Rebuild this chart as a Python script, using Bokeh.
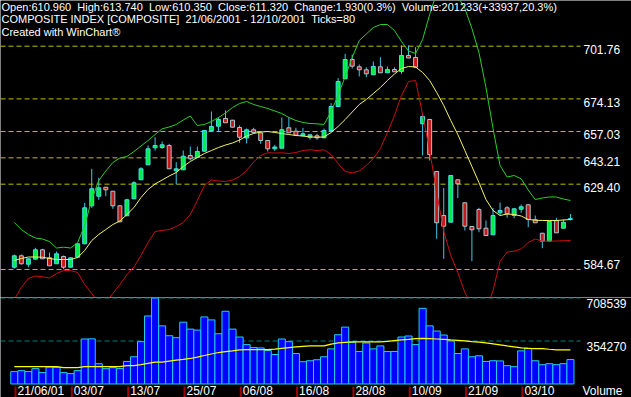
from bokeh.plotting import figure
from bokeh.layouts import column
from bokeh.models import Range1d, ColumnDataSource, Label
from bokeh.core.properties import value
from bokeh.embed import file_html
from bokeh.resources import INLINE

# ---------------- data ----------------
opens = [585.86, 591.84, 587.44, 590.06, 594.99, 590.79, 587.65, 591.47, 585.86, 591.11,
         598.13, 618.06, 623.09, 627.81, 625.72, 618.06, 612.82, 621.73, 631.70, 639.56,
         648.48, 648.63, 649.68, 636.41, 636.94, 644.44, 643.39, 646.69, 657.55, 659.80,
         663.84, 662.95, 659.12, 653.61, 657.92, 656.34, 652.30, 647.95, 648.27, 658.96,
         657.18, 654.77, 654.03, 654.77, 653.72, 657.55, 670.13, 684.66, 694.78, 690.95,
         689.38, 686.76, 690.95, 687.81, 689.54, 688.49, 696.88, 695.83, 661.06, 663.32,
         636.05, 612.97, 609.46, 631.70, 619.63, 607.21, 616.12, 606.31, 602.85, 614.39,
         617.01, 612.97, 616.28, 618.59, 610.72, 603.69, 599.50, 610.35, 606.31, 610.96]
highs = [592.52, 592.52, 590.42, 596.04, 595.51, 593.57, 594.10, 592.00, 590.95, 598.29,
         619.63, 637.46, 632.74, 627.92, 625.82, 618.22, 621.73, 630.96, 638.30, 649.68,
         654.03, 651.78, 650.57, 640.92, 647.06, 649.16, 649.16, 657.81, 667.51, 664.52,
         668.04, 663.10, 660.17, 658.60, 658.96, 656.50, 652.40, 650.05, 664.37, 664.52,
         658.96, 658.96, 655.45, 655.82, 658.60, 671.86, 684.97, 697.77, 697.40, 692.16,
         690.74, 693.73, 695.99, 691.11, 690.74, 702.12, 702.12, 701.23, 666.62, 663.68,
         636.20, 627.50, 634.05, 631.85, 619.80, 607.36, 617.01, 610.35, 616.80, 619.79,
         617.85, 616.74, 618.74, 618.74, 612.97, 603.80, 609.93, 611.77, 610.88, 613.74]
lows = [585.18, 587.28, 585.86, 589.90, 590.16, 586.49, 587.54, 584.81, 585.71, 590.95,
        598.03, 617.01, 621.21, 623.09, 616.49, 609.57, 612.72, 621.63, 631.60, 639.45,
        647.06, 647.95, 637.36, 629.23, 636.83, 641.82, 643.30, 646.54, 657.18, 656.66,
        661.48, 659.17, 651.10, 650.73, 655.97, 650.57, 646.54, 646.80, 648.10, 656.24,
        654.98, 654.66, 652.83, 652.67, 653.60, 657.40, 669.77, 684.55, 690.06, 685.87,
        685.50, 686.66, 687.70, 687.70, 688.23, 687.28, 695.46, 690.59, 644.44, 641.82,
        600.76, 590.27, 609.35, 622.05, 605.11, 589.01, 604.22, 602.40, 602.75, 612.97,
        611.77, 611.56, 614.39, 606.84, 609.05, 595.83, 599.40, 603.80, 606.20, 610.35]
closes = [591.84, 587.65, 590.27, 594.99, 590.27, 586.60, 592.89, 585.86, 590.79, 598.13,
          617.01, 626.98, 627.50, 626.45, 618.06, 609.67, 621.21, 630.12, 637.46, 647.95,
          649.68, 650.05, 637.46, 637.46, 644.07, 642.71, 646.54, 657.55, 659.65, 663.32,
          661.59, 659.28, 654.03, 657.92, 656.50, 652.30, 647.95, 648.90, 657.97, 656.34,
          655.08, 655.82, 655.29, 653.72, 657.55, 670.13, 683.24, 694.78, 691.27, 689.38,
          687.28, 691.11, 687.81, 689.54, 688.33, 696.88, 695.57, 690.74, 664.89, 644.96,
          609.15, 607.36, 633.95, 629.60, 607.36, 605.48, 606.00, 602.49, 612.97, 615.60,
          613.87, 616.49, 617.54, 610.88, 609.15, 599.50, 609.83, 603.90, 609.39, 611.32]
volumes = [101900, 110000, 101900, 126300, 93700, 139400, 136900, 93700, 85600, 110000,
           370800, 372000, 167100, 126300, 134500, 127000, 185800, 224100, 348800, 560700,
           708539, 479200, 397700, 381400, 509400, 452300, 444200, 552600, 528100, 414000,
           599000, 452300, 387100, 324400, 299900, 297000, 275500, 242900, 370800, 348800,
           251000, 183400, 191500, 199700, 224100, 289300, 405900, 468600, 343100, 267300,
           338200, 289300, 313800, 267300, 268000, 387100, 395300, 324400, 623500, 479200,
           436000, 403400, 354500, 251000, 289300, 224100, 232300, 185800, 191500, 190000,
           150800, 142600, 273000, 294200, 191500, 158900, 167100, 158900, 167296, 201233]
bb_upper = [609.30, 605.63, 603.01, 601.17, 600.65, 599.34, 595.93, 596.35, 595.93, 598.82,
            607.73, 621.36, 631.33, 636.31, 640.77, 643.13, 643.91, 646.54, 649.42, 652.30,
            655.45, 658.44, 659.38, 660.69, 663.05, 665.15, 660.17, 660.69, 662.27, 664.37,
            666.73, 669.61, 671.71, 672.76, 671.18, 670.13, 669.08, 667.77, 666.46, 664.37,
            662.79, 661.74, 661.22, 661.06, 660.69, 667.51, 675.90, 685.87, 695.83, 704.74,
            708.15, 711.56, 713.13, 713.13, 709.99, 704.22, 699.24, 697.93, 705.27, 718.38,
            729.90, 736.70, 733.60, 727.80, 721.52, 711.04, 698.45, 680.10, 658.60, 639.19,
            633.16, 633.95, 632.22, 626.35, 621.36, 622.15, 622.68, 622.68, 621.63, 620.84]
bb_mid = [589.38, 590.42, 591.21, 591.21, 591.11, 590.42, 589.90, 589.90, 589.90, 590.95,
          594.62, 599.86, 603.01, 605.63, 608.25, 610.09, 613.50, 617.17, 622.41, 626.61,
          629.49, 631.59, 633.69, 635.52, 638.67, 641.29, 643.39, 645.49, 647.06, 648.63,
          649.94, 650.99, 652.57, 654.66, 655.97, 656.76, 657.02, 656.50, 655.97, 655.45,
          654.93, 654.66, 654.14, 654.03, 654.14, 656.50, 659.65, 663.32, 667.25, 671.18,
          673.80, 676.95, 680.10, 683.77, 687.18, 690.06, 691.11, 690.85, 687.96, 683.77,
          677.48, 670.66, 662.79, 655.45, 647.06, 638.67, 630.28, 621.36, 615.60, 612.97,
          613.76, 613.50, 612.71, 610.88, 610.51, 610.35, 610.35, 610.35, 610.61, 610.88]
bb_lower = [568.92, 575.22, 579.94, 581.25, 580.83, 580.20, 582.56, 584.13, 584.13, 583.08,
            576.79, 572.07, 567.35, 567.35, 572.07, 576.79, 582.03, 585.97, 592.00, 598.82,
            604.58, 605.11, 605.63, 607.21, 609.30, 613.50, 620.84, 628.71, 631.59, 631.07,
            630.80, 631.59, 633.43, 636.57, 641.03, 644.44, 645.85, 645.75, 645.85, 645.49,
            646.01, 647.06, 647.43, 647.06, 647.43, 644.96, 640.24, 636.05, 635.37, 636.31,
            639.19, 642.86, 648.11, 656.50, 665.41, 675.90, 683.24, 683.77, 665.94, 647.06,
            625.04, 604.58, 592.00, 583.08, 572.60, 565.25, 560.53, 563.16, 573.64, 588.85,
            593.83, 594.25, 595.41, 598.82, 600.65, 599.50, 599.50, 599.60, 599.76, 599.86]
vol_ma = [142600] * 7 + [134500] * 3 + [142600] * 6 + [
    150800, 150800, 158900, 169500, 180100, 180100, 188300, 196400, 202100, 210300,
    220900, 234700, 246900, 259200, 267300, 273000, 281200, 283600, 283600, 283600,
    283600, 287700, 294200, 299900, 305600, 310500, 313800, 313800, 313800, 328400,
    338200, 343100, 346400, 346400, 346400, 346400, 346400, 351300, 357000, 362700,
    367600, 373300, 375700, 373300, 370800, 367600, 362700, 359400, 354500, 348800,
    344700, 338200, 330900, 322700, 313800, 305600, 297500, 294200, 291800, 291800,
    286100, 281200, 281200, 281200]

price_ticks = [701.76, 674.13, 657.03, 643.21, 629.40, 584.67]
price_tick_labels = ["701.76", "674.13", "657.03", "643.21", "629.40", "584.67"]
vol_ticks = [708539, 354270]
vol_tick_labels = ["708539", "354270"]
date_idx = [0, 8, 16, 24, 32, 40, 48, 56, 64, 72]
date_labels = ["21/06/01", "03/07", "13/07", "25/07", "06/08", "16/08",
               "28/08", "10/09", "21/09", "03/10"]
header_lines = [
    "Open:610.960\u00a0 High:613.740\u00a0 Low:610.350\u00a0 Close:611.320\u00a0 "
    "Change:1.930(0.3%)\u00a0 Volume:201233(+33937,20.3%)",
    "COMPOSITE INDEX [COMPOSITE]\u00a0 21/06/2001 - 12/10/2001\u00a0 Ticks=80",
    "Created with WinChart\u00ae",
]

# ---------------- layout constants ----------------
W = 631
H_PRICE = 297
H_VOL = 100
BAR_PX = 7.04          # pixels per bar
X0_PX = 13.8           # pixel of first bar centre
X_START = -X0_PX / BAR_PX
X_END = X_START + W / BAR_PX
PRICE_TOP = 725.72
PRICE_PER_PX = 0.5244
PRICE_BOTTOM = PRICE_TOP - PRICE_PER_PX * H_PRICE
VOL_PER_PX = 8240
VOL_TOP = 712659
VOL_BOTTOM = VOL_TOP - VOL_PER_PX * H_VOL


def px_x(px):
    return X_START + px / BAR_PX


FONT = value("Liberation Sans")
n = len(closes)
idx = list(range(n))
up = [c >= o for o, c in zip(opens, closes)]

src = ColumnDataSource(dict(
    x=idx, o=opens, h=highs, l=lows, c=closes,
    top=[max(o, c) for o, c in zip(opens, closes)],
    bot=[min(o, c) for o, c in zip(opens, closes)],
    fill=["#00f040" if u else "#c81818" for u in up],
    edge=["#40e0e8" if u else "#a8c8d0" for u in up],
))


def base_fig(h, yr):
    f = figure(width=W, height=h, output_backend="svg", toolbar_location=None,
               x_range=Range1d(X_START, X_END), y_range=yr, min_border=0,
               background_fill_color="black", border_fill_color="black")
    f.axis.visible = False
    f.grid.visible = False
    f.outline_line_color = None
    return f


# ---------------- price pane ----------------
p = base_fig(H_PRICE, Range1d(PRICE_BOTTOM, PRICE_TOP))
p.segment(x0=[X_START] * len(price_ticks), x1=[px_x(580)] * len(price_ticks),
          y0=price_ticks, y1=price_ticks, line_color="#c0c000", line_width=1,
          line_dash="5 3")
p.segment(x0="x", x1="x", y0="l", y1="h", source=src, line_color="#40c8e8", line_width=1)
p.vbar(x="x", width=0.56, top="top", bottom="bot", source=src,
       fill_color="fill", line_color="edge", line_width=1)
p.line(idx, bb_upper, line_color="#28d028", line_width=1)
p.line(idx, bb_lower, line_color="#c81010", line_width=1)
p.line(idx, bb_mid, line_color="#f4f460", line_width=1)

lab_top = price_tick_labels[:-1]
p.text(x=[px_x(583)] * len(lab_top), y=price_ticks[:-1], text=lab_top,
       text_color="white", text_font=FONT, text_font_size="12px",
       text_baseline="top", y_offset=-1.3)
p.text(x=[px_x(583)], y=price_ticks[-1:], text=price_tick_labels[-1:],
       text_color="white", text_font=FONT, text_font_size="12px",
       text_baseline="bottom")

for k, line in enumerate(header_lines):
    p.add_layout(Label(x=1, y=H_PRICE - 0.5 - 12.3 * k, x_units="screen", y_units="screen",
                       text=line, text_color="white", text_font="Liberation Sans",
                       text_font_size="11px", text_baseline="top", text_align="left"))

# ---------------- volume pane ----------------
v = base_fig(H_VOL, Range1d(VOL_BOTTOM, VOL_TOP))
v.segment(x0=[X_START] * 2, x1=[px_x(580)] * 2, y0=vol_ticks, y1=vol_ticks,
          line_color="#008080", line_width=1, line_dash="5 3")
v.vbar(x=idx, width=1.0, top=volumes, bottom=0, fill_color="#0000ff",
       line_color="#20d0f0", line_width=1)
v.line(idx, vol_ma, line_color="#ffff00", line_width=1.2)
v.text(x=[px_x(586)] * 2, y=vol_ticks, text=vol_tick_labels, text_color="white",
       text_font=FONT, text_font_size="12px", text_baseline="top", y_offset=1)

# date axis below the bars
tick_x = [i + 1.2 / BAR_PX for i in date_idx]
v.segment(x0=tick_x, x1=tick_x, y0=[-2.5 * VOL_PER_PX] * len(date_idx),
          y1=[-13 * VOL_PER_PX] * len(date_idx), line_color="#a00000", line_width=2)
v.text(x=date_idx, y=[0] * len(date_idx), text=date_labels, text_color="white",
       text_font=FONT, text_font_size="12px", text_baseline="top",
       x_offset=3.2, y_offset=0.5)
v.text(x=[px_x(582)], y=[0], text=["Volume"], text_color="white", text_font=FONT,
       text_font_size="12px", text_baseline="top", y_offset=0.3)

layout = column(p, v, spacing=0)
open("out.html", "w").write(file_html(layout, INLINE))
